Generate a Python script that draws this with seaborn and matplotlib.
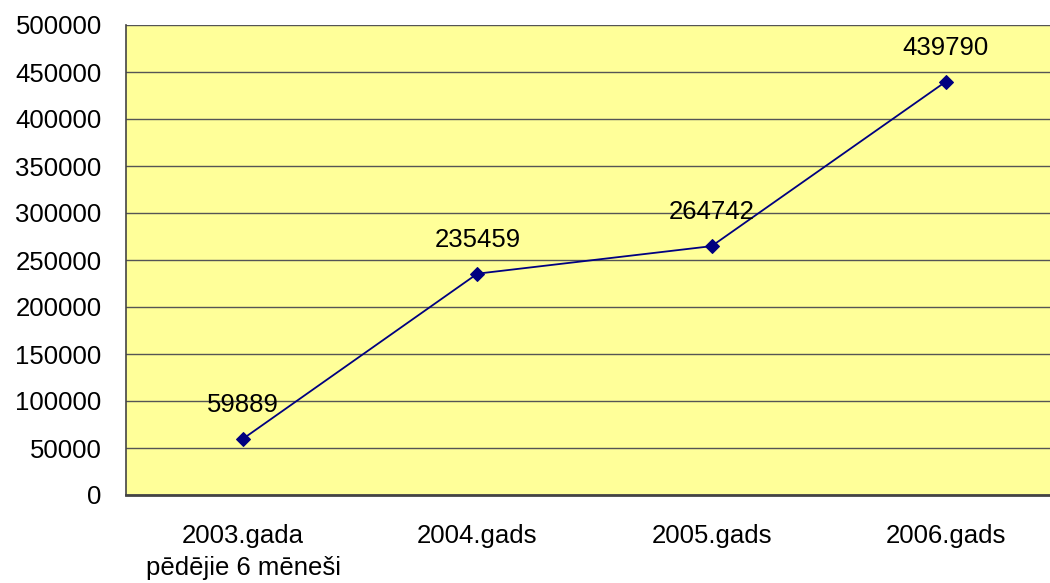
import matplotlib
matplotlib.use("Agg")
import matplotlib.pyplot as plt
import seaborn as sns
import pandas as pd

categories = ["2003.gada\npēdējie 6 mēneši", "2004.gads", "2005.gads", "2006.gads"]
values = [59889, 235459, 264742, 439790]
yticks = [0, 50000, 100000, 150000, 200000, 250000, 300000, 350000, 400000, 450000, 500000]

sns.set_style("white")
plt.rcParams['font.family'] = ['Liberation Sans', 'DejaVu Sans']
FS = 18.5

fig = plt.figure(figsize=(10.5, 5.83), dpi=100)
ax = fig.add_axes([126/1050, 88/583, 937/1050, 470/583])
ax.set_facecolor("#FFFF99")

pos = list(range(len(categories)))
df = pd.DataFrame({"x": pos, "y": values})
sns.lineplot(data=df, x="x", y="y", ax=ax, color="#000080", lw=1.3,
             marker="D", markersize=7, markeredgecolor="#000080", zorder=3)

for xi, v in zip(pos, values):
    ax.annotate(str(v), (xi, v), xytext=(0, 24.5), textcoords="offset points",
                ha="center", va="center", fontsize=FS, color="black")

ax.set_xlim(-0.5, len(categories) - 0.5)
ax.set_ylim(0, 500000)
ax.set_yticks(yticks)
ax.set_yticklabels([str(t) for t in yticks], fontsize=FS, color="black")
ax.yaxis.grid(True, color="#555555", lw=1)
ax.set_axisbelow(True)

ax.set_xticks([i - 0.5 for i in range(len(categories) + 1)])
ax.set_xticklabels([])
ax.set_xticks(pos, minor=True)
ax.set_xticklabels(categories, minor=True, fontsize=FS, color="black", linespacing=1.4)
ax.tick_params(axis="x", which="major", length=7, width=1, color="#333333", direction="out")
ax.tick_params(axis="x", which="minor", length=0, pad=21)
ax.tick_params(axis="y", length=6.5, width=1, color="#333333", direction="out", pad=11)
ax.set_xlabel("")
ax.set_ylabel("")

for s in ["top", "right"]:
    ax.spines[s].set_visible(False)
ax.spines["left"].set_color("#444444")
ax.spines["left"].set_linewidth(1.2)
ax.spines["bottom"].set_color("#444444")
ax.spines["bottom"].set_linewidth(2)

fig.savefig("out.png", dpi=100)
